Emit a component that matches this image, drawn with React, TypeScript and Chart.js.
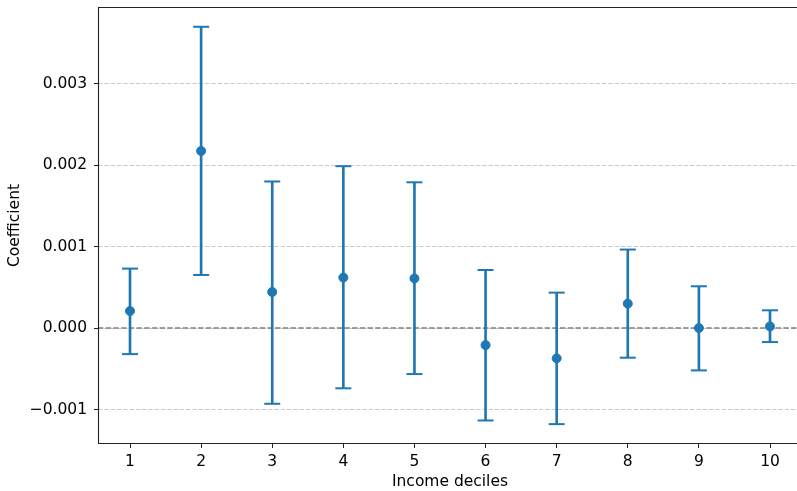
import React, { useEffect, useRef } from "react";
import { Chart, registerables } from "chart.js";

Chart.register(...registerables);

const deciles = [1, 2, 3, 4, 5, 6, 7, 8, 9, 10];
const coef = [0.000209, 0.002175, 0.000443, 0.00062, 0.00061, -0.000209, -0.000372, 0.0003, 0.0, 0.00002];
const ciLow = [-0.00032, 0.000652, -0.00093, -0.00074, -0.000565, -0.001135, -0.00118, -0.000364, -0.00052, -0.000172];
const ciHigh = [0.00073, 0.0037, 0.0018, 0.001988, 0.00179, 0.000713, 0.000435, 0.000964, 0.000513, 0.000218];
const yTicks = [-0.001, 0, 0.001, 0.002, 0.003];
const xLimits = [0.55, 10.45];
const yLimits = [-0.001424, 0.003943];
const zeroValue = 0;

const BLUE = "#1f77b4";
const SPINE = "#222222";
const FONT = { family: "DejaVu Sans", size: 15.5 };

const fmtY = (v: number) => {
  const r = Math.round(v * 1000) / 1000;
  if (r === 0) return "0.000";
  return (r < 0 ? "\u2212" : "") + Math.abs(r).toFixed(3);
};

const spines = {
  id: "spines",
  afterDraw(chart: any) {
    const { ctx, chartArea } = chart;
    const l = Math.round(chartArea.left) + 0.5;
    const t = Math.round(chartArea.top) + 0.5;
    const b = Math.round(chartArea.bottom) - 0.5;
    const r = chartArea.right;
    ctx.save();
    ctx.setLineDash([]);
    ctx.strokeStyle = SPINE;
    ctx.lineWidth = 1.1;
    ctx.beginPath();
    ctx.moveTo(r, t);
    ctx.lineTo(l, t);
    ctx.lineTo(l, b);
    ctx.lineTo(r, b);
    ctx.stroke();
    ctx.restore();
  },
};

export default function App() {
  const ref = useRef<HTMLCanvasElement>(null);
  useEffect(() => {
    Chart.defaults.font.family = "DejaVu Sans";
    const chart = new Chart(ref.current as HTMLCanvasElement, {
      type: "scatter",
      data: {
        datasets: [
          {
            type: "line",
            data: xLimits.map((x) => ({ x, y: zeroValue })),
            borderColor: "#808080",
            borderWidth: 1.4,
            borderDash: [5.4, 2.3],
            pointRadius: 0,
            order: 5,
          } as any,
          {
            type: "bar",
            data: deciles.map((x, i) => ({ x, y: [ciLow[i], ciHigh[i]] })),
            backgroundColor: BLUE,
            borderWidth: 0,
            barThickness: 2,
            grouped: false,
            order: 4,
          } as any,
          {
            type: "scatter",
            data: deciles.map((x, i) => ({ x, y: ciHigh[i] })),
            pointStyle: "line",
            pointRadius: 8,
            borderColor: BLUE,
            borderWidth: 2,
            order: 3,
          } as any,
          {
            type: "scatter",
            data: deciles.map((x, i) => ({ x, y: ciLow[i] })),
            pointStyle: "line",
            pointRadius: 8,
            borderColor: BLUE,
            borderWidth: 2,
            order: 2,
          } as any,
          {
            type: "scatter",
            data: deciles.map((x, i) => ({ x, y: coef[i] })),
            pointStyle: "circle",
            pointRadius: 4.5,
            backgroundColor: BLUE,
            borderColor: BLUE,
            borderWidth: 1,
            order: 1,
          } as any,
        ],
      },
      options: {
        animation: false,
        responsive: false,
        devicePixelRatio: 1,
        events: [],
        layout: { autoPadding: false, padding: { top: 7, right: 8, left: 0, bottom: 0 } },
        plugins: { legend: { display: false }, tooltip: { enabled: false } },
        scales: {
          x: {
            type: "linear",
            offset: false,
            min: xLimits[0],
            max: xLimits[1],
            afterFit: (s: any) => {
              s.height = 47;
              s.paddingLeft = 0;
              s.paddingRight = 0;
            },
            afterBuildTicks: (s: any) => {
              s.ticks = deciles.map((v) => ({ value: v }));
            },
            ticks: {
              callback: (v: any) => String(v),
              color: "#000",
              font: FONT,
              padding: 5,
              maxRotation: 0,
              autoSkip: false,
            },
            grid: {
              offset: false,
              drawOnChartArea: false,
              drawTicks: true,
              tickLength: 4,
              tickColor: SPINE,
              color: SPINE,
            },
            border: { display: false },
            title: {
              display: true,
              text: "Income deciles",
              color: "#000",
              font: FONT,
              padding: 0,
            },
          },
          y: {
            type: "linear",
            min: yLimits[0],
            max: yLimits[1],
            afterFit: (s: any) => {
              s.width = 98;
              s.paddingTop = 0;
              s.paddingBottom = 0;
            },
            afterBuildTicks: (s: any) => {
              s.ticks = yTicks.map((v) => ({ value: v }));
            },
            ticks: {
              callback: (v: any) => fmtY(Number(v)),
              color: "#000",
              font: FONT,
              padding: 7,
            },
            grid: {
              color: "#c8c8c8",
              lineWidth: 1,
              drawTicks: true,
              tickLength: 4,
              tickColor: SPINE,
              tickWidth: 1,
            },
            border: { display: false, dash: [4.3, 2] },
            title: {
              display: true,
              text: "Coefficient",
              color: "#000",
              font: FONT,
              padding: { top: 5.5, bottom: 0 },
            },
          },
        },
      } as any,
      plugins: [spines],
    });
    return () => chart.destroy();
  }, []);
  return (
    <div
      style={{
        position: "fixed",
        left: 0,
        top: 0,
        width: 797,
        height: 491,
        overflow: "hidden",
        background: "#fff",
      }}
    >
      <canvas ref={ref} width={810} height={491} style={{ display: "block", width: 810, height: 491 }} />
    </div>
  );
}
